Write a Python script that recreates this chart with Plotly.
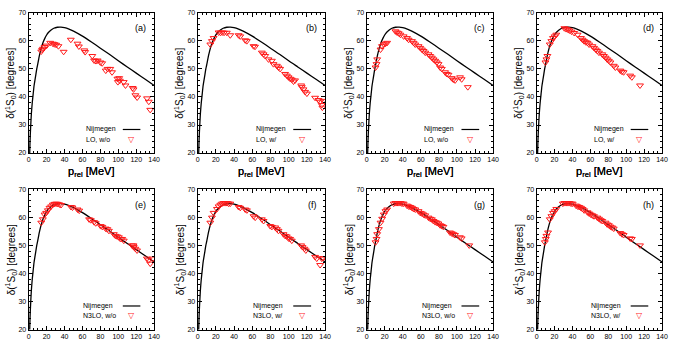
import plotly.graph_objects as go

# ---------------- data ----------------
nij_p = [0, 0.5, 1, 1.5, 2, 3, 4, 5, 6, 7, 8, 9, 10, 12, 14, 16, 18, 20, 22, 25, 28, 32, 36, 40, 45, 50, 60, 70, 80,
         90, 100, 110, 120, 130, 140]
nij_delta = [0, 10, 18, 24, 28, 34, 38, 41, 44, 46, 48, 50, 51.5, 54.8, 57.4, 59.4, 60.9, 62.1, 63.0, 63.9, 64.5, 64.85,
             64.9, 64.7, 64.2, 63.5, 61.7, 59.6, 57.4, 55.2, 52.9, 50.7, 48.5, 46.3, 44.1]

p_a = [14, 15, 16, 17.7, 20, 24, 27, 28.7, 30.6, 33.2, 39, 47, 54.5, 56, 62, 63, 71, 73, 75, 77, 80, 82, 86, 88, 91, 93,
       99, 99.5, 101, 101.7, 106, 108, 116, 117, 119, 121, 132, 134, 135.6]
d_a = [56.2, 56.8, 57.2, 57.8, 58.3, 59.3, 59.0, 58.8, 58.6, 58.1, 56.1, 60.4, 59.0, 58.0, 56.6, 56.0, 54.6, 53.0, 52.8,
       53.0, 52.3, 52.0, 49.4, 50.0, 50.0, 48.8, 46.5, 45.3, 46.7, 45.8, 45.3, 44.1, 43.2, 42.7, 40.6, 39.8, 39.5, 38.3, 35.4]

p_b = [13.9, 15.7, 17.5, 23, 25, 27, 29, 32, 35.8, 45, 46.8, 52.3, 54, 61.4, 63, 70.5, 72.4, 74.2, 77.8, 81.5, 83.3, 87,
       88.8, 90.6, 96, 98, 99.8, 101.6, 103.4, 105.3, 107, 113.7, 114.4, 116.2, 118, 120, 129, 132.7, 134.5, 136.3, 137, 138]
d_b = [58.7, 59.9, 61.0, 63.0, 62.9, 63.0, 62.9, 62.9, 62.0, 62.0, 61.6, 60.2, 59.9, 58.1, 57.9, 55.8, 55.2, 54.6, 53.4,
       52.9, 51.7, 51.1, 50.5, 50.0, 48.2, 47.6, 47.0, 46.5, 46.2, 45.5, 45.9, 44.1, 43.5, 42.7, 41.8, 41.2, 39.7, 38.9,
       38.3, 37.1, 36.2, 38.6]

p_c = [9.9, 11, 11.7, 15.4, 17, 19, 20.9, 22.7, 31.9, 33.7, 35.5, 37.4, 41, 44.7, 46.5, 50.2, 52, 53.8, 57.5, 59.4, 61.2,
       63, 64.9, 68.5, 70.4, 72.2, 74, 75.9, 77.7, 79.6, 81.4, 83.2, 86.9, 88.7, 90.6, 94.2, 96, 97.9, 103.4, 105.2, 112]
d_c = [50.5, 51.7, 53.4, 56.9, 58.1, 58.7, 59.0, 59.3, 63.4, 63.0, 62.7, 62.2, 61.6, 61.0, 60.4, 59.9, 59.3, 58.7, 58.1,
       57.5, 56.9, 56.4, 55.8, 55.2, 54.6, 54.0, 53.4, 52.9, 52.3, 51.7, 50.5, 50.0, 48.8, 48.2, 47.9, 46.7, 46.2, 45.9,
       47.0, 46.3, 43.5]

p_d = [9.9, 11, 12.1, 14.7, 16.5, 18.3, 20.2, 22, 31, 33, 35, 36.6, 39, 42, 45.8, 49.5, 51.3, 53, 55, 56.8, 58.6, 62.3,
       64.1, 66, 67.8, 69.6, 73.3, 75.1, 77, 78.8, 80.6, 82.4, 86.1, 87.9, 93.4, 95.3, 97.1, 104.4, 106.3, 115.4]
d_d = [52.3, 53.4, 54.6, 58.7, 59.9, 61.0, 61.6, 62.2, 64.5, 64.2, 64.0, 63.7, 63.3, 62.8, 62.2, 61.0, 60.4, 59.9, 59.5,
       59.3, 58.7, 58.1, 57.5, 56.9, 56.4, 55.8, 55.2, 54.6, 54.0, 53.4, 52.9, 52.3, 51.1, 50.5, 49.4, 49.0, 48.8, 47.6,
       47.0, 44.1]

p_e = [14, 15.8, 17.7, 19.5, 21.4, 23.2, 25, 26.9, 28.7, 30.6, 32.4, 34.3, 36.1, 47.2, 48.9, 54.5, 56.4, 67.4, 69.3, 73,
       74.8, 80.3, 82.2, 85.8, 87.7, 89.5, 95, 96.9, 98.7, 100.6, 102.4, 104.3, 106.1, 115.3, 117.2, 119, 120.9, 117,
       131.9, 133.7, 135.6, 138.5]
d_e = [58.1, 59.3, 61.0, 61.6, 62.5, 63.4, 63.9, 64.5, 64.8, 64.9, 64.8, 64.6, 64.4, 63.7, 63.5, 62.8, 62.4, 59.3, 59.0,
       58.3, 57.9, 56.9, 56.6, 56.0, 55.8, 55.2, 54.0, 53.4, 53.2, 52.9, 52.3, 52.3, 51.7, 50.0, 49.4, 48.8, 48.2, 50.0,
       45.3, 44.7, 43.5, 45.3]

p_f = [13.9, 15.7, 17.5, 21.2, 23, 24.9, 26.7, 28.5, 30.3, 32.2, 34, 35.8, 45, 46.8, 52.3, 54.1, 61.4, 63.2, 70.5, 72.4,
       79.7, 81.5, 85.2, 87, 88.8, 94.3, 96.1, 97.9, 99.8, 101.6, 103.4, 113.7, 115.2, 117.3, 118.8, 129, 130.8, 134.5,
       136.3, 138]
d_f = [58.1, 59.9, 61.6, 63.0, 63.9, 64.5, 64.9, 65.1, 65.1, 65.1, 64.9, 64.9, 63.7, 63.4, 62.8, 62.5, 60.4, 59.9, 59.3,
       58.7, 56.9, 56.6, 56.4, 55.8, 55.2, 54.0, 53.4, 53.2, 52.5, 52.3, 51.7, 50.0, 49.4, 48.8, 48.2, 45.9, 45.3, 43.0,
       45.3, 45.5]

p_g = [9.9, 11, 11.7, 13.6, 15.4, 17.2, 19, 20.9, 22.7, 30, 31.9, 33.7, 35.5, 37.4, 39.2, 41, 44.7, 46.5, 48.4, 50.2,
       52, 53.9, 57.5, 59.4, 61.2, 63, 64.9, 68.5, 70.4, 72.2, 74, 75.9, 77.7, 79.5, 81.4, 83.2, 85, 92.3, 94.2, 96,
       97.8, 103.3, 105.2, 113.6]
d_g = [51.1, 52.3, 54.0, 55.8, 58.1, 59.5, 61.0, 62.2, 62.8, 64.9, 65.1, 65.1, 65.1, 65.1, 64.9, 64.9, 64.2, 63.9, 63.7,
       63.4, 63.0, 62.8, 62.2, 61.6, 61.4, 61.0, 60.7, 59.9, 59.5, 59.3, 58.7, 58.3, 58.1, 57.8, 57.2, 56.9, 56.6, 54.6,
       54.3, 54.0, 53.7, 52.9, 52.5, 50.0]

p_h = [9.2, 10.3, 11, 12.8, 14.7, 16.5, 18.3, 20.2, 22, 29.3, 31.1, 33, 34.8, 36.6, 38.5, 40.3, 44, 45.8, 47.6, 49.5,
       51.3, 53.1, 56.8, 58.6, 60.5, 62.3, 64.1, 67.8, 69.6, 71.5, 73.3, 77, 78.8, 80.6, 82.4, 84.3, 86.1, 93.4, 95.3,
       97.1, 104.4, 106.3, 115.4]
d_h = [51.1, 52.3, 53.4, 54.6, 59.3, 60.4, 61.6, 62.2, 63.0, 64.9, 65.1, 65.1, 65.1, 65.1, 64.9, 64.9, 64.2, 63.9, 63.7,
       63.4, 63.0, 62.5, 61.8, 61.4, 61.0, 60.7, 60.4, 59.9, 59.5, 59.0, 58.7, 58.1, 57.5, 57.2, 56.7, 56.4, 56.0, 54.4,
       54.0, 53.7, 52.5, 52.3, 50.0]

panel_labels = ["(a)", "(b)", "(c)", "(d)", "(e)", "(f)", "(g)", "(h)"]
series_names = ["LO, w/o", "LO, w/", "LO, w/o", "LO, w/", "N3LO, w/o", "N3LO, w/", "N3LO, w/o", "N3LO, w/"]
ref_name = "Nijmegen"
x_ticks = [0, 20, 40, 60, 80, 100, 120, 140]
y_ticks = [20, 30, 40, 50, 60, 70]

panel_p = [p_a, p_b, p_c, p_d, p_e, p_f, p_g, p_h]
panel_d = [d_a, d_b, d_c, d_d, d_e, d_f, d_g, d_h]

# ---------------- layout ----------------
W, H = 674, 360
COLS = [(27, 154), (198, 327), (369, 497), (541, 668)]
ROWS = [(9, 152), (189, 332)]
FONT = "Liberation Sans, Arial, Helvetica, sans-serif"
RED = "#ff1a1a"

fig = go.Figure()
annotations = []
shapes = []
layout_axes = {}

for i in range(8):
    r, c = divmod(i, 4)
    sfx = "" if i == 0 else str(i + 1)
    xa, ya = "x" + sfx, "y" + sfx
    x0, x1 = COLS[c]
    y0, y1 = ROWS[r]
    xdom = [x0 / W, x1 / W]
    ydom = [1 - y1 / H, 1 - y0 / H]

    common = dict(showline=True, linecolor="black", linewidth=1, mirror="allticks",
                  ticks="inside", ticklen=4, tickwidth=1, tickcolor="black",
                  showgrid=False, zeroline=False,
                  tickfont=dict(family=FONT, size=7, color="black"))
    layout_axes["xaxis" + sfx] = dict(domain=xdom, anchor=ya, range=[0, 140], tickvals=x_ticks,
                                      minor=dict(dtick=5, ticks="inside", ticklen=2, tickcolor="black"),
                                      **common)
    layout_axes["yaxis" + sfx] = dict(domain=ydom, anchor=xa, range=[20, 70], tickvals=y_ticks,
                                      minor=dict(dtick=2, ticks="inside", ticklen=2, tickcolor="black"),
                                      **common)

    fig.add_trace(go.Scatter(x=nij_p, y=nij_delta, mode="lines", xaxis=xa, yaxis=ya,
                             line=dict(color="black", width=1.3, shape="spline", smoothing=0.6),
                             showlegend=False))
    fig.add_trace(go.Scatter(x=panel_p[i], y=panel_d[i], mode="markers", xaxis=xa, yaxis=ya,
                             marker=dict(symbol="triangle-down-open", size=6, color=RED,
                                         line=dict(width=1, color=RED)),
                             showlegend=False))

    # axis titles
    annotations.append(dict(text="p<sub>rel</sub> [MeV]", xref="paper", yref="paper",
                            x=(x0 + x1) / 2 / W, y=1 - 171 / H, xanchor="center", yanchor="middle",
                            showarrow=False, font=dict(family=FONT, size=11, color="black")))
    annotations.append(dict(text="δ(<sup>1</sup>S<sub>0</sub>) [degrees]", xref="paper", yref="paper",
                            x=(x0 - 18) / W, y=1 - (y0 + y1) / 2 / H, xanchor="center", yanchor="middle",
                            textangle=-90, showarrow=False, font=dict(family=FONT, size=10, color="black")))
    # panel label
    annotations.append(dict(text=panel_labels[i], xref=xa + " domain", yref=ya + " domain",
                            x=0.95, y=0.89, xanchor="right", yanchor="middle", showarrow=False,
                            font=dict(family=FONT, size=9, color="black")))
    # key
    annotations.append(dict(text=ref_name, xref=xa + " domain", yref=ya + " domain",
                            x=0.44 if i < 4 else 0.42, y=0.168, xanchor="left", yanchor="middle",
                            showarrow=False, font=dict(family=FONT, size=7, color="black")))
    annotations.append(dict(text=series_names[i], xref=xa + " domain", yref=ya + " domain",
                            x=0.44 if i < 4 else 0.42, y=0.098, xanchor="left", yanchor="middle",
                            showarrow=False, font=dict(family=FONT, size=7, color="black")))
    shapes.append(dict(type="line", xref=xa + " domain", yref=ya + " domain",
                       x0=0.75, x1=0.89, y0=0.168, y1=0.168, line=dict(color="black", width=1.2)))
    annotations.append(dict(text="▽", xref=xa + " domain", yref=ya + " domain",
                            x=0.82, y=0.098, xanchor="center", yanchor="middle",
                            showarrow=False, font=dict(family="DejaVu Sans", size=8, color=RED)))

fig.update_layout(width=W, height=H, margin=dict(l=0, r=0, t=0, b=0),
                  paper_bgcolor="white", plot_bgcolor="white",
                  annotations=annotations, shapes=shapes, showlegend=False,
                  **layout_axes)

fig.write_html("out.html")
